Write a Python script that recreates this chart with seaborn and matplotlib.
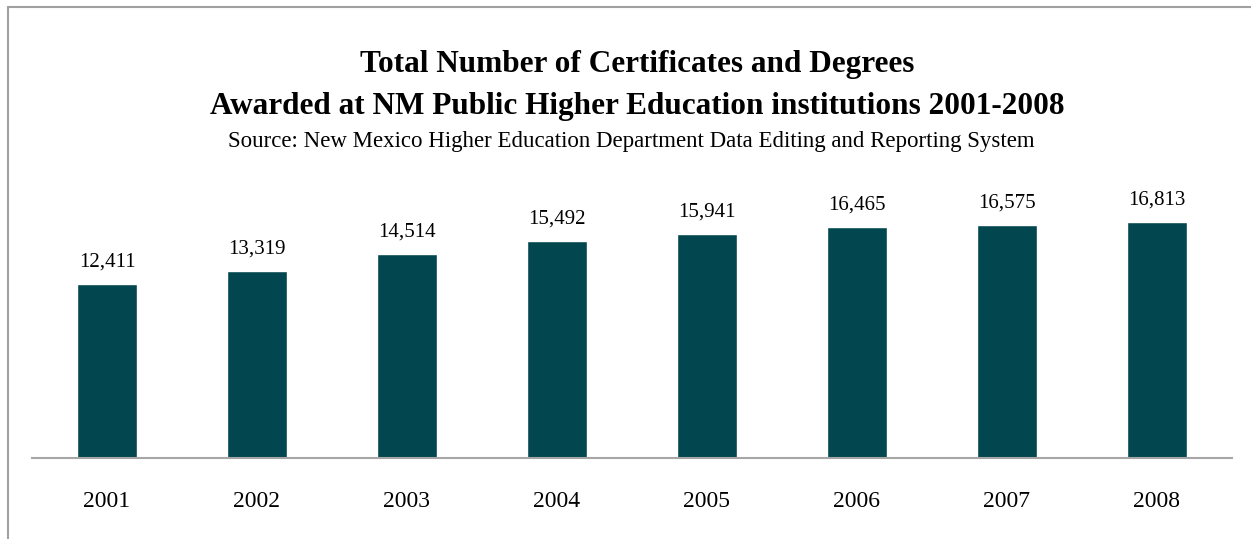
import matplotlib
matplotlib.use("Agg")
import matplotlib.pyplot as plt
import seaborn as sns
import pandas as pd
from matplotlib.lines import Line2D

years = ["2001", "2002", "2003", "2004", "2005", "2006", "2007", "2008"]
awards = [12411, 13319, 14514, 15492, 15941, 16465, 16575, 16813]

title_1 = "Total Number of Certificates and Degrees"
title_2 = "Awarded at NM Public Higher Education institutions 2001-2008"
subtitle = "Source: New Mexico Higher Education Department Data Editing and Reporting System"

df = pd.DataFrame({"year": years, "awards": awards})

sns.set_style("white")
plt.rcParams["font.family"] = ["Liberation Serif", "DejaVu Serif"]
plt.rcParams["text.color"] = "black"

fig = plt.figure(figsize=(12.51, 5.39), dpi=100)
ax = fig.add_axes([32 / 1251, 81 / 539, 1200 / 1251, 288 / 539])

sns.barplot(data=df, x="year", y="awards", color="#02474F", width=0.4,
            saturation=1, ax=ax)

ax.set_xlim(-0.5, 7.5)
ax.set_ylim(0, 20530)
ax.set_xlabel("")
ax.set_ylabel("")
ax.set_yticks([])
for side in ["top", "right", "left"]:
    ax.spines[side].set_visible(False)
ax.spines["bottom"].set_color("#A6A6A6")
ax.spines["bottom"].set_linewidth(1.5)
ax.tick_params(axis="x", length=0, labelsize=17, pad=24, colors="black")

for cont in ax.containers:
    ax.bar_label(cont, labels=[f"{v:,}" for v in awards], padding=9,
                 fontsize=15, color="black")

fig.text(0.509, 0.880, title_1, ha="center", va="center",
         fontsize=22.5, fontweight="bold")
fig.text(0.509, 0.802, title_2, ha="center", va="center",
         fontsize=22.5, fontweight="bold")
fig.text(0.505, 0.737, subtitle, ha="center", va="center", fontsize=16.5)

# frame lines (top and left) like the original chart box
fig.add_artist(Line2D([8 / 1251, 1], [1 - 7 / 539, 1 - 7 / 539],
                      transform=fig.transFigure, color="#A0A0A0", lw=1.5))
fig.add_artist(Line2D([8 / 1251, 8 / 1251], [0, 1 - 7 / 539],
                      transform=fig.transFigure, color="#A0A0A0", lw=1.5))

fig.savefig("out.png", dpi=100, facecolor="white")
